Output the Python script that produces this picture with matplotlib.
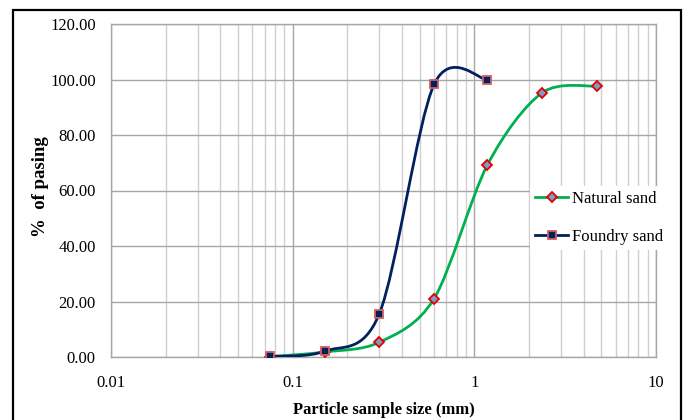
import numpy as np
import matplotlib
matplotlib.use('Agg')
import matplotlib.pyplot as plt
from matplotlib.path import Path
from matplotlib.patches import PathPatch, Rectangle
from matplotlib.lines import Line2D
from matplotlib.ticker import FixedLocator, FuncFormatter, LogLocator, NullFormatter

plt.rcParams['font.family'] = ['Liberation Serif', 'DejaVu Serif']

# sieve sizes (mm) and % passing
natural_size = [0.075, 0.15, 0.3, 0.6, 1.18, 2.36, 4.75]
natural_pass = [0.1, 1.8, 5.3, 21.0, 69.2, 95.2, 97.6]
foundry_size = [0.075, 0.15, 0.3, 0.6, 1.18]
foundry_pass = [0.2, 2.1, 15.6, 98.2, 99.9]

green = '#00B050'
navy = '#002060'


def smooth_path(xs, ys):
    # excel-like smoothed line: cubic bezier through points, built in log-x space
    lx = np.log10(xs)
    pts = np.column_stack([lx, ys])
    n = len(pts)
    verts = [pts[0]]
    codes = [Path.MOVETO]
    for i in range(n - 1):
        p_prev = pts[i - 1] if i > 0 else pts[i]
        p_next2 = pts[i + 2] if i + 2 < n else pts[i + 1]
        c1 = pts[i] + (pts[i + 1] - p_prev) / 6.5
        c2 = pts[i + 1] - (p_next2 - pts[i]) / 6.5
        verts += [c1, c2, pts[i + 1]]
        codes += [Path.CURVE4] * 3
    verts = np.array(verts)
    verts[:, 0] = 10 ** verts[:, 0]
    return Path(verts, codes)


fig = plt.figure(figsize=(6.86, 4.2), dpi=100)
ax = fig.add_axes([111 / 686, 63 / 420, 545 / 686, 333 / 420])

ax.set_xscale('log')
ax.set_xlim(0.01, 10)
ax.set_ylim(0, 120)

ax.add_patch(PathPatch(smooth_path(natural_size, natural_pass), fill=False,
                       edgecolor=green, lw=2.0, zorder=3))
ax.add_patch(PathPatch(smooth_path(foundry_size, foundry_pass), fill=False,
                       edgecolor=navy, lw=2.0, zorder=3))

ax.plot(natural_size, natural_pass, ls='none', marker='D', ms=5.5,
        mfc='#7F9CC8', mec='#E00000', mew=1.3, zorder=4)
ax.plot(foundry_size, foundry_pass, ls='none', marker='s', ms=6,
        mfc=navy, mec='#D06060', mew=1.3, zorder=4)

# grid
ax.xaxis.set_major_locator(FixedLocator([0.01, 0.1, 1, 10]))
ax.xaxis.set_minor_locator(LogLocator(base=10, subs=np.arange(2, 10)))
ax.xaxis.set_minor_formatter(NullFormatter())
ax.xaxis.set_major_formatter(FuncFormatter(lambda v, p: '%g' % v))
ax.set_yticks(np.arange(0, 121, 20))
ax.yaxis.set_major_formatter(FuncFormatter(lambda v, p: '%.2f' % v))
ax.grid(True, which='major', axis='both', color='#A6A6A6', lw=1.0)
ax.grid(True, which='minor', axis='x', color='#D0D0D0', lw=1.0)
ax.set_axisbelow(True)
ax.tick_params(which='both', length=0, labelsize=12)
ax.tick_params(axis='x', pad=13)
ax.tick_params(axis='y', pad=11)
for s in ax.spines.values():
    s.set_color('#A6A6A6')
    s.set_linewidth(1.0)

ax.set_xlabel('Particle sample size (mm)', fontsize=12, fontweight='bold', labelpad=8)
ax.set_ylabel('%  of pasing', fontsize=13.5, fontweight='bold')
ax.yaxis.set_label_coords(-0.114, 0.513)

handles = [
    Line2D([], [], color=green, lw=2.0, marker='D', ms=5.5, mfc='#7F9CC8',
           mec='#E00000', mew=1.3),
    Line2D([], [], color=navy, lw=2.0, marker='s', ms=6, mfc=navy,
           mec='#D06060', mew=1.3),
]
leg = fig.legend(handles, ['Natural sand', 'Foundry sand'], loc='upper left',
                 bbox_to_anchor=(530 / 686, 1 - 186 / 420), fontsize=12,
                 handlelength=2.0, handletextpad=0.2, labelspacing=1.3,
                 borderpad=0.3, borderaxespad=0, fancybox=False)
leg.get_frame().set_facecolor('white')
leg.get_frame().set_edgecolor('none')
leg.get_frame().set_alpha(1)

# outer black border of the picture
fig.patches.append(Rectangle((13 / 686, -0.05), 668 / 686, 1.05 - 10 / 420,
                             transform=fig.transFigure, fill=False,
                             edgecolor='black', lw=1.6, clip_on=False))

fig.savefig('out.png', dpi=100)
